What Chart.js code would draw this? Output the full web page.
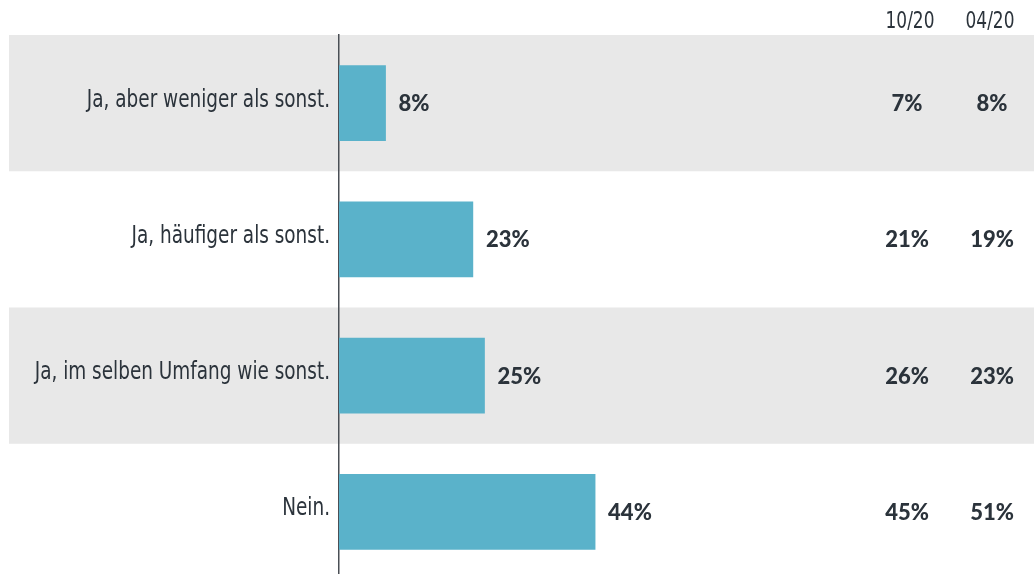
<!DOCTYPE html>
<html>
<head>
<meta charset="utf-8">
<script src="https://cdn.jsdelivr.net/npm/chart.js@4"></script>
<style>
  html, body { margin: 0; padding: 0; background: #fff; overflow: hidden; }
  #wrap { width: 1034px; height: 580px; }
</style>
</head>
<body>
<div id="wrap"><canvas id="chart"></canvas></div>
<script>
const categories = [
    "Ja, aber weniger als sonst.",
    "Ja, häufiger als sonst.",
    "Ja, im selben Umfang wie sonst.",
    "Nein."
];
const current = [8, 23, 25, 44];
const oct20 = [7, 21, 26, 45];
const apr20 = [8, 19, 23, 51];
const columnHeaders = ["10/20", "04/20"];

const labelFont = "'Liberation Sans Narrow', 'DejaVu Sans Condensed', 'Roboto', sans-serif";
const valueFont = "Lato, 'Open Sans', sans-serif";
const textColor = '#2b333b';
const squeeze = 0.82;

// condensed text: draw with a horizontal squeeze
function narrowText(ctx, text, x, y, align) {
    ctx.save();
    ctx.translate(x, y);
    ctx.scale(squeeze, 1);
    ctx.textAlign = align;
    ctx.fillText(text, 0, 0);
    ctx.restore();
}

// grey stripes behind every other row
const bandsPlugin = {
    id: 'bands',
    beforeDraw(chart) {
        const { ctx, chartArea, scales: { y } } = chart;
        ctx.save();
        ctx.fillStyle = '#e8e8e8';
        categories.forEach((c, i) => {
            if (i % 2 !== 0) return;
            const top = y.getPixelForValue(i - 0.5);
            const bottom = y.getPixelForValue(i + 0.5);
            ctx.fillRect(9, top, chartArea.right - 9, bottom - top);
        });
        ctx.restore();
    }
};

// category labels, value labels next to bars and the two comparison columns
const labelsPlugin = {
    id: 'labels',
    afterDatasetsDraw(chart) {
        const { ctx, chartArea, scales: { y } } = chart;
        ctx.save();
        ctx.fillStyle = textColor;
        ctx.textBaseline = 'middle';
        ctx.font = "25px " + labelFont;
        categories.forEach((c, i) => {
            narrowText(ctx, c, chartArea.left - 9, y.getPixelForValue(i) - 3, 'right');
        });
        ctx.font = "23px " + labelFont;
        narrowText(ctx, columnHeaders[0], 910, 22, 'center');
        narrowText(ctx, columnHeaders[1], 990, 22, 'center');

        ctx.font = "900 22px " + valueFont;
        chart.getDatasetMeta(0).data.forEach((bar, i) => {
            ctx.textAlign = 'left';
            ctx.fillText(current[i] + '%', bar.x + 13, bar.y + 1);
            ctx.textAlign = 'center';
            ctx.fillText(oct20[i] + '%', 907, bar.y + 1);
            ctx.fillText(apr20[i] + '%', 992, bar.y + 1);
        });
        ctx.restore();
    }
};

new Chart(document.getElementById('chart'), {
    type: 'bar',
    data: {
        labels: categories,
        datasets: [{
            data: current,
            backgroundColor: '#5ab2ca',
            barThickness: 75
        }]
    },
    options: {
        indexAxis: 'y',
        responsive: true,
        maintainAspectRatio: false,
        animation: false,
        layout: { padding: { top: 35, left: 0, right: 0, bottom: 0 } },
        plugins: {
            legend: { display: false },
            tooltip: { enabled: false }
        },
        scales: {
            x: {
                display: false,
                min: 0,
                max: 119.4
            },
            y: {
                afterFit(scale) {
                    scale.width = 339;
                    scale.paddingTop = 0;
                    scale.paddingBottom = 0;
                },
                grid: { display: false, drawTicks: false },
                border: { display: true, color: '#4a4f55', width: 1.5 },
                ticks: { display: false }
            }
        }
    },
    plugins: [bandsPlugin, labelsPlugin]
});
</script>
</body>
</html>
